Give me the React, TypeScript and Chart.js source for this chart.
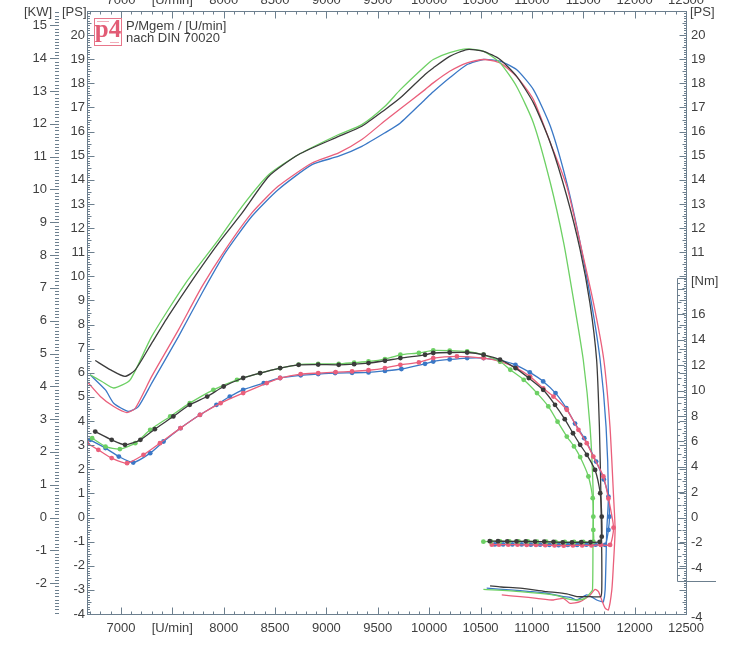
import React, { useEffect, useRef } from "react";
import { Chart, registerables } from "chart.js";

Chart.register(...registerables);

// axis ticks / labels
const xTickValues = [7000, 7500, 8000, 8500, 9000, 9500, 10000, 10500, 11000, 11500, 12000, 12500];
const xTickLabels = ["7000", "[U/min]", "8000", "8500", "9000", "9500", "10000", "10500", "11000", "11500", "12000", "12500"];
const psTicks = [-4, -3, -2, -1, 0, 1, 2, 3, 4, 5, 6, 7, 8, 9, 10, 11, 12, 13, 14, 15, 16, 17, 18, 19, 20];
const psRightTicks = [11, 12, 13, 14, 15, 16, 17, 18, 19, 20, -4];
const kwTicks = [-2, -1, 0, 1, 2, 3, 4, 5, 6, 7, 8, 9, 10, 11, 12, 13, 14, 15];
const nmTicks = [-4, -2, 0, 2, 4, 6, 8, 10, 12, 14, 16];

// power runs [PS] vs [U/min]
const blackPowerRpm = [6750, 6900, 7040, 7140, 7300, 7460, 7720, 7950, 8180, 8440, 8730, 9120, 9345, 9570, 9720, 9960, 10040, 10200, 10370, 10530, 10690, 10850, 11015, 11180, 11340, 11470, 11565, 11630, 11657, 11672, 11680, 11680, 11670, 11566, 11437, 11340, 11145, 10885, 10700, 10593];
const blackPowerPs = [6.51, 6.12, 5.85, 6.12, 7.23, 8.34, 10.0, 11.38, 12.63, 14.15, 15.05, 15.8, 16.22, 16.91, 17.4, 18.37, 18.64, 19.12, 19.4, 19.33, 18.99, 18.3, 17.19, 15.53, 13.32, 11.1, 8.89, 6.54, 3.77, 0.87, -1.5, -3.0, -3.28, -3.28, -3.28, -3.17, -3.07, -2.93, -2.88, -2.83];

const greenPowerRpm = [6700, 6815, 6930, 7090, 7300, 7630, 7950, 8180, 8440, 8730, 9120, 9345, 9570, 9720, 9960, 10040, 10200, 10370, 10530, 10690, 10850, 11015, 11180, 11310, 11400, 11500, 11566, 11598, 11595, 11590, 11566, 11518, 11437, 11372, 11209, 10885, 10528];
const greenPowerPs = [5.92, 5.64, 5.37, 5.71, 7.51, 9.72, 11.52, 12.9, 14.22, 15.05, 15.88, 16.29, 17.05, 17.74, 18.71, 18.99, 19.27, 19.43, 19.33, 18.85, 17.88, 16.36, 13.87, 11.38, 9.17, 6.54, 3.77, 0.87, -0.51, -3.0, -3.14, -3.35, -3.42, -3.39, -3.21, -3.07, -2.98];

const redPowerRpm = [6670, 6800, 6930, 7058, 7140, 7300, 7560, 7790, 8015, 8275, 8530, 8860, 9120, 9345, 9570, 9720, 9960, 10040, 10200, 10370, 10530, 10690, 10850, 11015, 11180, 11340, 11470, 11600, 11700, 11760, 11795, 11810, 11793, 11778, 11745, 11713, 11680, 11648, 11615, 11566, 11469, 11372, 11307, 11209, 11048, 10885, 10707];
const redPowerPs = [5.64, 5.02, 4.6, 4.35, 4.53, 5.85, 7.78, 9.58, 11.1, 12.63, 13.73, 14.7, 15.12, 15.67, 16.45, 16.95, 17.74, 18.02, 18.5, 18.85, 18.99, 18.85, 18.29, 17.33, 15.53, 13.73, 11.38, 8.89, 6.54, 3.77, 0.87, -0.51, -2.0, -3.0, -3.83, -3.76, -3.42, -3.07, -2.98, -3.21, -3.49, -3.56, -3.35, -3.42, -3.35, -3.28, -3.21];

const bluePowerRpm = [6700, 6850, 6930, 7074, 7170, 7300, 7560, 7790, 8015, 8275, 8530, 8860, 9120, 9345, 9570, 9720, 9960, 10040, 10200, 10370, 10530, 10690, 10850, 11015, 11180, 11340, 11470, 11580, 11664, 11722, 11745, 11729, 11713, 11696, 11680, 11631, 11586, 11534, 11437, 11372, 11307, 11145, 10983, 10788, 10560];
const bluePowerPs = [5.92, 5.29, 4.74, 4.4, 4.6, 5.57, 7.5, 9.31, 10.97, 12.49, 13.59, 14.63, 14.98, 15.39, 15.95, 16.36, 17.33, 17.65, 18.23, 18.78, 18.99, 18.92, 18.57, 17.74, 16.22, 13.87, 11.38, 8.89, 6.54, 3.77, 0.87, -0.51, -3.0, -3.5, -3.49, -3.42, -3.3, -3.21, -3.42, -3.31, -3.28, -3.14, -3.07, -3.0, -2.93];

// torque runs [Nm] vs [U/min]
const blackTorqueRpm = [6750, 6910, 7040, 7190, 7330, 7510, 7670, 7840, 8000, 8190, 8355, 8550, 8730, 8920, 9120, 9270, 9410, 9570, 9720, 9960, 10040, 10200, 10370, 10530, 10690, 10840, 10970, 11110, 11225, 11320, 11400, 11470, 11535, 11615, 11665, 11680, 11680, 11660, 11570, 11480, 11390, 11300, 11210, 11120, 11030, 10940, 10850, 10760, 10670, 10590];
const blackTorqueNm = [6.77, 6.12, 5.73, 6.12, 6.96, 7.96, 8.88, 9.53, 10.32, 10.99, 11.38, 11.77, 12.03, 12.05, 12.03, 12.08, 12.17, 12.35, 12.56, 12.82, 12.96, 13.0, 13.0, 12.82, 12.43, 11.77, 10.99, 10.06, 8.88, 7.75, 6.64, 5.73, 4.94, 3.75, 1.92, 0.07, -1.51, -1.92, -1.95, -1.95, -1.96, -1.96, -1.93, -1.9, -1.9, -1.88, -1.88, -1.88, -1.86, -1.86];

const greenTorqueRpm = [6720, 6850, 6990, 7140, 7285, 7480, 7670, 7900, 8130, 8355, 8550, 8730, 8920, 9120, 9270, 9410, 9570, 9720, 9900, 10040, 10200, 10370, 10530, 10690, 10790, 10920, 11050, 11160, 11250, 11340, 11410, 11470, 11550, 11592, 11598, 11598, 11598, 11500, 11410, 11320, 11230, 11140, 11050, 10960, 10870, 10780, 10690, 10600, 10528];
const greenTorqueNm = [6.25, 5.59, 5.39, 5.86, 6.91, 7.96, 9.01, 10.06, 10.85, 11.38, 11.77, 12.05, 12.1, 12.1, 12.2, 12.29, 12.48, 12.82, 12.96, 13.16, 13.15, 13.08, 12.82, 12.29, 11.64, 10.85, 9.8, 8.75, 7.55, 6.38, 5.6, 4.76, 3.23, 1.52, 0.07, -0.98, -1.9, -1.92, -1.93, -1.93, -1.92, -1.9, -1.9, -1.88, -1.88, -1.88, -1.88, -1.88, -1.9];

const redTorqueRpm = [6670, 6780, 6910, 7060, 7220, 7380, 7580, 7770, 7970, 8190, 8420, 8550, 8750, 8920, 9090, 9250, 9410, 9570, 9720, 9900, 10040, 10270, 10530, 10690, 10850, 10983, 11110, 11210, 11340, 11453, 11534, 11598, 11696, 11745, 11795, 11761, 11670, 11580, 11490, 11400, 11310, 11220, 11130, 11040, 10950, 10860, 10770, 10680, 10610];
const redTorqueNm = [5.86, 5.33, 4.68, 4.28, 4.94, 5.86, 7.04, 8.09, 9.01, 9.8, 10.59, 10.99, 11.3, 11.38, 11.45, 11.51, 11.6, 11.77, 12.03, 12.22, 12.56, 12.69, 12.56, 12.29, 11.77, 11.1, 10.18, 9.53, 8.49, 6.91, 5.86, 4.8, 3.23, 1.5, -0.8, -2.16, -2.16, -2.2, -2.2, -2.2, -2.22, -2.2, -2.18, -2.16, -2.16, -2.14, -2.14, -2.14, -2.14];

const blueTorqueRpm = [6700, 6850, 6980, 7120, 7285, 7415, 7580, 7770, 7930, 8060, 8190, 8390, 8550, 8750, 8920, 9085, 9250, 9410, 9570, 9730, 9960, 10040, 10200, 10370, 10530, 10690, 10840, 10980, 11110, 11230, 11335, 11420, 11510, 11625, 11700, 11745, 11755, 11745, 11713, 11620, 11530, 11440, 11350, 11260, 11170, 11080, 10990, 10900, 10810, 10720, 10640];
const blueTorqueNm = [6.12, 5.47, 4.8, 4.33, 5.07, 5.99, 7.04, 8.09, 8.88, 9.53, 10.06, 10.59, 10.99, 11.2, 11.3, 11.38, 11.4, 11.43, 11.55, 11.7, 12.11, 12.29, 12.45, 12.56, 12.56, 12.37, 12.03, 11.43, 10.72, 9.8, 8.62, 7.4, 6.25, 4.41, 3.0, 1.65, 0.07, -0.98, -2.16, -2.14, -2.14, -2.16, -2.16, -2.18, -2.16, -2.14, -2.14, -2.12, -2.12, -2.12, -2.12];

const BLACK = "#3b3b3b";
const GREEN = "#6dd064";
const RED = "#ea5f7b";
const BLUE = "#3a78c6";
const AXIS = "#6c7f8e";
const TEXT = "#3f3f3f";
const FONT = "13px 'Liberation Sans', Arial, sans-serif";

const PS_PER_KW = 1.36;
const NM_PER_PS = 1.9;

const toPoints = (xs: number[], ys: number[]) => xs.map((x, i) => ({ x, y: ys[i] }));

const dynoAxes = {
  id: "dynoAxes",
  afterDatasetsDraw(chart: any) {
    const { ctx, chartArea: a } = chart;
    const sx = chart.scales.x;
    const sps = chart.scales.ps;
    const skw = chart.scales.kw;
    const snm = chart.scales.nm;
    const line = (x1: number, y1: number, x2: number, y2: number) => {
      ctx.beginPath();
      ctx.moveTo(x1, y1);
      ctx.lineTo(x2, y2);
      ctx.stroke();
    };
    const L = Math.round(a.left) + 0.5;
    const R = Math.round(a.right) + 0.5;
    const T = Math.round(a.top) + 0.5;
    const B = Math.round(a.bottom) + 0.5;

    ctx.save();
    ctx.strokeStyle = AXIS;
    ctx.lineWidth = 1;
    ctx.strokeRect(L, T, R - L, B - T);

    // rpm ticks, top and bottom
    for (let v = Math.ceil(sx.min / 100) * 100; v <= sx.max; v += 100) {
      const px = Math.round(sx.getPixelForValue(v)) + 0.5;
      const len = v % 500 === 0 ? 7 : 3;
      line(px, B, px, B - len);
      line(px, T, px, T + len);
    }

    // PS ticks, left and right
    for (let i = -40; i <= 210; i++) {
      const py = Math.round(sps.getPixelForValue(i / 10)) + 0.5;
      const len = i % 10 === 0 ? 7 : i % 5 === 0 ? 4 : 2.5;
      line(L, py, L + len, py);
      line(R, py, R - len, py);
    }

    // KW ticks
    for (let i = -29; i <= 154; i++) {
      const py = Math.round(skw.getPixelForValue(i / 10)) + 0.5;
      if (i % 10 === 0) line(50, py, 59, py);
      else line(55, py, 59, py);
    }

    // Nm bracket
    const nx = 677.5;
    const nTop = Math.round(snm.getPixelForValue(18.9)) + 0.5;
    const nBot = Math.round(snm.getPixelForValue(-5)) + 0.5;
    line(nx, nTop, nx, nBot);
    line(nx, nTop, R, nTop);
    line(nx, nBot, 716, nBot);
    for (let i = -9; i <= 37; i++) {
      const py = Math.round(snm.getPixelForValue(i / 2)) + 0.5;
      const len = i % 4 === 0 ? 7 : i % 2 === 0 ? 4 : 2.5;
      line(nx, py, nx + len, py);
    }

    // labels
    ctx.fillStyle = TEXT;
    ctx.font = FONT;
    ctx.textAlign = "center";
    ctx.textBaseline = "middle";
    xTickValues.forEach((v, i) => ctx.fillText(xTickLabels[i], sx.getPixelForValue(v), 628));
    ctx.textBaseline = "alphabetic";
    xTickValues.forEach((v, i) => ctx.fillText(xTickLabels[i], sx.getPixelForValue(v), 4));

    ctx.textBaseline = "middle";
    ctx.textAlign = "right";
    psTicks.forEach((v) => ctx.fillText(String(v), 85, sps.getPixelForValue(v)));
    kwTicks.forEach((v) => ctx.fillText(String(v), 47, skw.getPixelForValue(v)));

    ctx.textAlign = "left";
    psRightTicks.forEach((v) => ctx.fillText(String(v), 691, sps.getPixelForValue(v) + (v < 0 ? 3 : 0)));
    nmTicks.forEach((v) => ctx.fillText(String(v), 691, snm.getPixelForValue(v)));

    ctx.fillText("[KW]", 24, 12);
    ctx.fillText("[PS]", 62, 12);
    ctx.fillText("[PS]", 690, 12);
    ctx.fillText("[Nm]", 691, 281);

    // logo and caption
    ctx.strokeStyle = "#e8768a";
    ctx.strokeRect(94.5, 18.5, 27, 27);
    ctx.fillStyle = "#e25c75";
    ctx.font = "bold 25px 'Liberation Serif', 'DejaVu Serif', serif";
    ctx.textAlign = "center";
    ctx.fillText("p4", 108, 31);
    ctx.lineWidth = 0.6;
    line(97, 21.5, 109, 21.5);
    line(110, 42.5, 119, 42.5);

    ctx.fillStyle = TEXT;
    ctx.font = FONT;
    ctx.textAlign = "left";
    ctx.fillText("P/Mgem / [U/min]", 126, 26);
    ctx.fillText("nach DIN 70020", 126, 38);
    ctx.restore();
  },
};

export default function DynoChart() {
  const chartRef = useRef<HTMLCanvasElement | null>(null);
  const chartInstanceRef = useRef<Chart | null>(null);

  useEffect(() => {
    if (!chartRef.current) return;
    const ctx = chartRef.current.getContext("2d");
    if (!ctx) return;

    if (chartInstanceRef.current) {
      chartInstanceRef.current.destroy();
    }

    const torque = (label: string, color: string, xs: number[], ys: number[]) => ({
      label,
      data: toPoints(xs, ys),
      yAxisID: "nm",
      borderColor: color,
      backgroundColor: color,
      borderWidth: 1.3,
      pointRadius: 2.4,
      pointBorderWidth: 0,
      pointBackgroundColor: color,
      tension: 0.2,
    });
    const power = (label: string, color: string, xs: number[], ys: number[]) => ({
      label,
      data: toPoints(xs, ys),
      yAxisID: "ps",
      borderColor: color,
      backgroundColor: color,
      borderWidth: 1.3,
      pointRadius: 0,
      tension: 0.2,
    });

    chartInstanceRef.current = new Chart(ctx, {
      type: "line",
      data: {
        datasets: [
          torque("Mgem 1", BLACK, blackTorqueRpm, blackTorqueNm),
          torque("Mgem 2", GREEN, greenTorqueRpm, greenTorqueNm),
          torque("Mgem 3", RED, redTorqueRpm, redTorqueNm),
          torque("Mgem 4", BLUE, blueTorqueRpm, blueTorqueNm),
          power("P 1", BLACK, blackPowerRpm, blackPowerPs),
          power("P 2", GREEN, greenPowerRpm, greenPowerPs),
          power("P 3", RED, redPowerRpm, redPowerPs),
          power("P 4", BLUE, bluePowerRpm, bluePowerPs),
        ] as any,
      },
      options: {
        animation: false,
        responsive: false,
        events: [],
        layout: { padding: { left: 87, right: 66, top: 11, bottom: 39 } },
        plugins: {
          legend: { display: false },
          tooltip: { enabled: false },
        },
        scales: {
          x: { type: "linear", min: 6670, max: 12500, display: false },
          ps: { type: "linear", axis: "y", position: "left", min: -4, max: 21, display: false },
          kw: { type: "linear", axis: "y", position: "left", min: -4 / PS_PER_KW, max: 21 / PS_PER_KW, display: false },
          nm: { type: "linear", axis: "y", position: "right", min: -4 * NM_PER_PS, max: 21 * NM_PER_PS, display: false },
        } as any,
      },
      plugins: [dynoAxes],
    });

    return () => {
      if (chartInstanceRef.current) {
        chartInstanceRef.current.destroy();
        chartInstanceRef.current = null;
      }
    };
  }, []);

  return (
    <div style={{ position: "fixed", left: 0, top: 0, width: 752, height: 653, background: "#fff" }}>
      <canvas ref={chartRef} width={752} height={653} style={{ display: "block" }} />
    </div>
  );
}
